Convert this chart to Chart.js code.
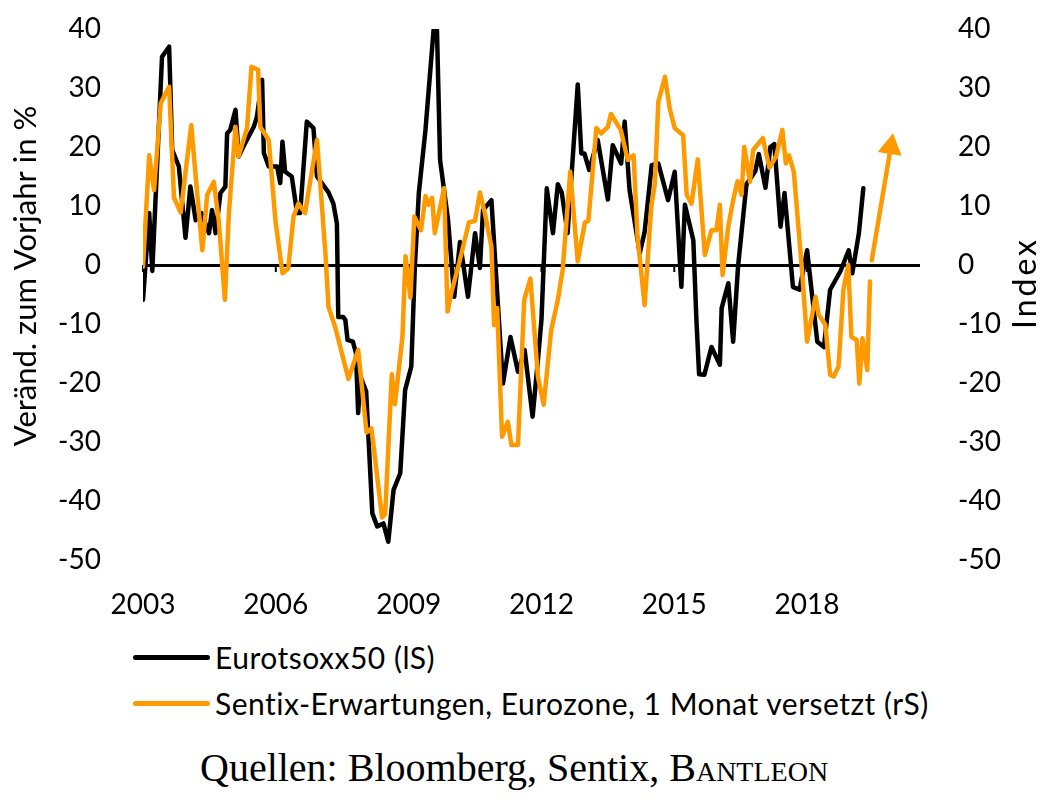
<!DOCTYPE html>
<html>
<head>
<meta charset="utf-8">
<script src="https://cdn.jsdelivr.net/npm/chart.js@4.4.1/dist/chart.umd.min.js"></script>
<style>
  body { margin: 0; background: #fff; font-family: Lato, "Open Sans", sans-serif; }
  #wrap { position: relative; width: 1055px; height: 800px; }
  #chartBox { position: absolute; left: 0; top: 0; width: 1055px; height: 620px; }
  .item { position: absolute; left: 133px; height: 40px; display: flex; align-items: center; font-size: 30px; letter-spacing: 0.5px; color: #000; white-space: nowrap; }
  .swatch { display: inline-block; width: 77px; height: 5px; border-radius: 3px; margin-right: 5px; }
  #source { position: absolute; left: 200px; top: 744px; font-family: "Liberation Serif", serif; font-size: 40px; color: #000; white-space: nowrap; }
  .sc { font-variant: small-caps; }
</style>
</head>
<body>
<div id="wrap">
  <div id="chartBox"><canvas id="chart"></canvas></div>
  <div id="legend"></div>
  <div id="source">Quellen: Bloomberg, Sentix, B<span class="sc">antleon</span></div>
</div>
<script>
// series names and x ticks
const seriesNames = ["Eurotsoxx50 (lS)", "Sentix-Erwartungen, Eurozone, 1 Monat versetzt (rS)"];
const tickYears = [2003, 2006, 2009, 2012, 2015, 2018];

// Eurostoxx50, yoy in % (left axis)
const stoxxYears = [2003.00, 2003.14, 2003.21, 2003.43, 2003.59, 2003.66, 2003.81, 2003.96, 2004.07, 2004.19, 2004.32, 2004.49, 2004.56, 2004.64, 2004.75, 2004.86, 2004.90, 2004.97, 2005.09, 2005.16, 2005.31, 2005.50, 2005.57, 2005.69, 2005.73, 2005.84, 2006.03, 2006.10, 2006.15, 2006.21, 2006.36, 2006.48, 2006.55, 2006.70, 2006.85, 2006.93, 2007.19, 2007.30, 2007.38, 2007.41, 2007.52, 2007.57, 2007.62, 2007.74, 2007.81, 2007.86, 2007.91, 2008.04, 2008.18, 2008.29, 2008.43, 2008.54, 2008.66, 2008.81, 2008.92, 2009.06, 2009.14, 2009.23, 2009.38, 2009.57, 2009.64, 2009.71, 2009.89, 2010.03, 2010.16, 2010.34, 2010.50, 2010.61, 2010.68, 2010.87, 2011.02, 2011.13, 2011.30, 2011.47, 2011.62, 2011.80, 2011.92, 2012.00, 2012.12, 2012.26, 2012.37, 2012.46, 2012.59, 2012.82, 2012.90, 2012.97, 2013.08, 2013.27, 2013.50, 2013.61, 2013.80, 2013.88, 2013.99, 2014.22, 2014.33, 2014.49, 2014.64, 2014.86, 2015.01, 2015.16, 2015.24, 2015.43, 2015.50, 2015.56, 2015.68, 2015.84, 2016.03, 2016.07, 2016.22, 2016.33, 2016.44, 2016.63, 2016.83, 2016.91, 2017.06, 2017.17, 2017.26, 2017.40, 2017.49, 2017.68, 2017.83, 2018.00, 2018.23, 2018.38, 2018.52, 2018.75, 2018.94, 2019.02, 2019.17, 2019.27];
const stoxxValues = [-5.9, 8.8, -1.0, 35.3, 37.0, 19.5, 16.7, 4.6, 13.3, 7.6, 8.8, 5.4, 9.3, 5.4, 12.2, 13.3, 22.3, 22.9, 26.3, 18.4, 20.7, 23.4, 25.0, 31.4, 19.0, 16.7, 16.7, 13.9, 20.9, 15.8, 15.0, 8.8, 8.8, 24.3, 23.2, 15.0, 12.3, 10.4, 7.0, -8.8, -8.8, -9.3, -12.7, -13.0, -14.9, -25.1, -18.9, -21.4, -42.1, -44.3, -43.8, -46.9, -38.1, -35.3, -21.2, -17.2, -0.3, 12.2, 22.9, 40.4, 39.8, 17.8, 7.6, -5.4, 3.9, -5.4, 5.4, -0.5, 9.3, 11.0, -7.1, -20.1, -12.2, -18.1, -14.4, -25.7, -16.1, -9.3, 13.0, 5.4, 13.7, 12.2, 5.4, 30.6, 18.9, 18.9, 16.1, 21.2, 11.1, 20.3, 17.2, 24.3, 12.7, 2.0, 5.6, 16.9, 17.2, 11.0, 15.8, -3.7, 10.2, 4.2, -9.3, -18.5, -18.6, -13.9, -16.9, -7.3, -3.1, -13.0, -0.3, 13.7, 15.9, 18.8, 13.1, 20.0, 20.5, 6.5, 12.2, -3.7, -4.2, 2.5, -13.0, -13.9, -4.2, -1.1, 2.5, -1.4, 5.4, 13.0];

// Sentix expectations, shifted by one month (right axis)
const sentixYears = [2003.00, 2003.14, 2003.25, 2003.40, 2003.59, 2003.70, 2003.85, 2004.09, 2004.19, 2004.34, 2004.45, 2004.60, 2004.71, 2004.85, 2004.94, 2005.09, 2005.16, 2005.35, 2005.45, 2005.60, 2005.65, 2005.84, 2005.99, 2006.15, 2006.28, 2006.40, 2006.51, 2006.66, 2006.93, 2007.12, 2007.19, 2007.34, 2007.64, 2007.86, 2008.05, 2008.16, 2008.40, 2008.47, 2008.62, 2008.69, 2008.86, 2008.93, 2009.04, 2009.13, 2009.28, 2009.38, 2009.45, 2009.53, 2009.59, 2009.80, 2009.88, 2009.97, 2010.14, 2010.36, 2010.50, 2010.61, 2010.72, 2010.87, 2010.93, 2011.00, 2011.11, 2011.24, 2011.32, 2011.47, 2011.61, 2011.75, 2011.92, 2012.05, 2012.22, 2012.37, 2012.48, 2012.65, 2012.82, 2012.98, 2013.06, 2013.24, 2013.35, 2013.50, 2013.57, 2013.79, 2013.95, 2014.08, 2014.17, 2014.33, 2014.48, 2014.56, 2014.64, 2014.79, 2014.90, 2015.01, 2015.20, 2015.28, 2015.39, 2015.53, 2015.69, 2015.84, 2015.95, 2016.03, 2016.09, 2016.22, 2016.33, 2016.43, 2016.52, 2016.58, 2016.71, 2016.78, 2017.00, 2017.15, 2017.30, 2017.44, 2017.52, 2017.59, 2017.70, 2017.89, 2018.00, 2018.19, 2018.26, 2018.41, 2018.52, 2018.60, 2018.71, 2018.82, 2018.93, 2019.00, 2019.12, 2019.18, 2019.25, 2019.36, 2019.42];
const sentixValues = [-0.3, 18.6, 12.7, 27.4, 30.2, 11.4, 8.9, 23.7, 15.0, 2.5, 11.9, 14.1, 7.6, -5.9, 8.8, 23.4, 18.4, 23.2, 33.6, 33.1, 23.4, 21.2, 7.6, -1.4, -0.6, 8.2, 10.4, 8.8, 21.2, 2.0, -7.1, -10.5, -19.3, -14.4, -28.4, -27.7, -42.8, -42.2, -18.5, -23.6, -12.2, 1.5, -5.5, 8.2, 5.9, 11.7, 10.2, 11.4, 5.4, 13.0, -7.9, -4.5, 0.3, 7.2, 7.5, 12.3, 8.8, 3.1, -10.2, -7.3, -29.1, -26.6, -30.5, -30.5, -5.9, -2.3, -18.9, -23.7, -11.0, -5.9, -0.8, 15.8, 0.6, 7.2, 7.5, 23.2, 22.3, 23.4, 25.6, 22.9, 17.8, 18.6, 4.8, -6.8, 9.9, 13.7, 27.7, 31.9, 26.4, 23.2, 22.0, 11.9, 10.4, 17.9, 1.7, 5.9, 5.9, 10.2, -1.7, 6.5, 11.0, 14.2, 11.9, 20.0, 14.1, 19.5, 21.5, 16.5, 18.4, 22.9, 17.2, 18.6, 15.8, -1.4, -13.0, -5.4, -8.4, -10.1, -18.6, -18.9, -17.2, -4.2, 0.0, -12.2, -12.7, -20.1, -12.4, -17.8, -2.8];

// outlook arrow (right axis)
const arrowYears = [2019.46, 2019.89];
const arrowValues = [0.8, 20.0];

const BLACK = "#000000";
const ORANGE = "#FF9900";
const TICK_FONT = { family: "Lato", size: 28 };

function toPoints(xs, ys) {
  return xs.map((x, i) => ({ x: x, y: ys[i] }));
}

// legend below the chart
const legendEl = document.querySelector("#legend");
[BLACK, ORANGE].forEach((color, i) => {
  const row = document.createElement("div");
  row.className = "item";
  row.style.top = 637 + i * 46 + "px";
  row.innerHTML = `<span class="swatch" style="background:${color}"></span>${seriesNames[i]}`;
  legendEl.append(row);
});

// rotated axis title helper
function drawTitle(ctx, text, x, y, size, spacing) {
  ctx.save();
  ctx.fillStyle = BLACK;
  ctx.font = `${size}px Lato`;
  ctx.letterSpacing = spacing + "px";
  ctx.textAlign = "center";
  ctx.textBaseline = "middle";
  ctx.translate(x, y);
  ctx.rotate(-Math.PI / 2);
  ctx.fillText(text, 0, 0);
  ctx.restore();
}

// axis titles + small ticks on the zero line
const extras = {
  id: "extras",
  beforeDatasetsDraw(chart) {
    const { ctx, scales } = chart;
    const y0 = scales.y.getPixelForValue(0);
    ctx.save();
    ctx.strokeStyle = BLACK;
    ctx.lineWidth = 2;
    tickYears.forEach((v) => {
      const px = scales.x.getPixelForValue(v);
      ctx.beginPath();
      ctx.moveTo(px, y0);
      ctx.lineTo(px, y0 + 7);
      ctx.stroke();
    });
    ctx.restore();
  },
  afterDraw(chart) {
    drawTitle(chart.ctx, "Veränd. zum Vorjahr in %", 26, 276, 31, 0);
    drawTitle(chart.ctx, "Index", 1026, 283, 32, 3);
  },
};

// keep the label padding from pushing the plot down
function fixVertical(width) {
  return (s) => {
    s.width = width;
    s.paddingTop = 17;
    s.paddingBottom = 17;
  };
}

new Chart(document.querySelector("#chart"), {
  type: "line",
  data: {
    datasets: [
      {
        label: seriesNames[0],
        data: toPoints(stoxxYears, stoxxValues),
        borderColor: BLACK,
        borderWidth: 4.5,
        pointRadius: 0,
        tension: 0,
        yAxisID: "y",
        order: 2,
      },
      {
        label: seriesNames[1],
        data: toPoints(sentixYears, sentixValues),
        borderColor: ORANGE,
        borderWidth: 4.5,
        pointRadius: 0,
        tension: 0,
        yAxisID: "y2",
        order: 1,
      },
      {
        label: "arrow",
        data: toPoints(arrowYears, arrowValues),
        borderColor: ORANGE,
        backgroundColor: ORANGE,
        borderWidth: 4.5,
        pointRadius: [0, 14],
        pointStyle: "triangle",
        rotation: 9.3,
        pointBorderWidth: 0,
        pointBackgroundColor: ORANGE,
        tension: 0,
        yAxisID: "y2",
        order: 0,
      },
    ],
  },
  options: {
    responsive: true,
    maintainAspectRatio: false,
    animation: false,
    layout: { padding: { top: 29, bottom: 0, left: 0, right: 0 } },
    plugins: {
      legend: { display: false },
      tooltip: { enabled: false },
    },
    elements: { line: { borderJoinStyle: "round", borderCapStyle: "round" } },
    scales: {
      x: {
        type: "linear",
        min: 2003,
        max: 2020.55,
        afterBuildTicks: (axis) => {
          axis.ticks = tickYears.map((v) => ({ value: v }));
        },
        grid: { display: false, drawTicks: false },
        border: { display: false },
        ticks: {
          font: TICK_FONT,
          color: BLACK,
          padding: 28,
          maxRotation: 0,
          autoSkip: false,
          callback: (v) => String(v),
        },
        afterFit: (s) => {
          s.height = 60;
        },
      },
      y: {
        position: "left",
        min: -50,
        max: 40,
        ticks: { stepSize: 10, font: TICK_FONT, color: BLACK, padding: 42 },
        grid: {
          drawTicks: false,
          color: (c) => (c.tick && c.tick.value === 0 ? BLACK : "rgba(0,0,0,0)"),
          lineWidth: 3,
        },
        border: { display: false },
        afterFit: fixVertical(143),
      },
      y2: {
        position: "right",
        min: -50,
        max: 40,
        ticks: { stepSize: 10, font: TICK_FONT, color: BLACK, padding: 38 },
        grid: { display: false, drawTicks: false },
        border: { display: false },
        afterFit: fixVertical(135),
      },
    },
  },
  plugins: [extras],
});
</script>
</body>
</html>
